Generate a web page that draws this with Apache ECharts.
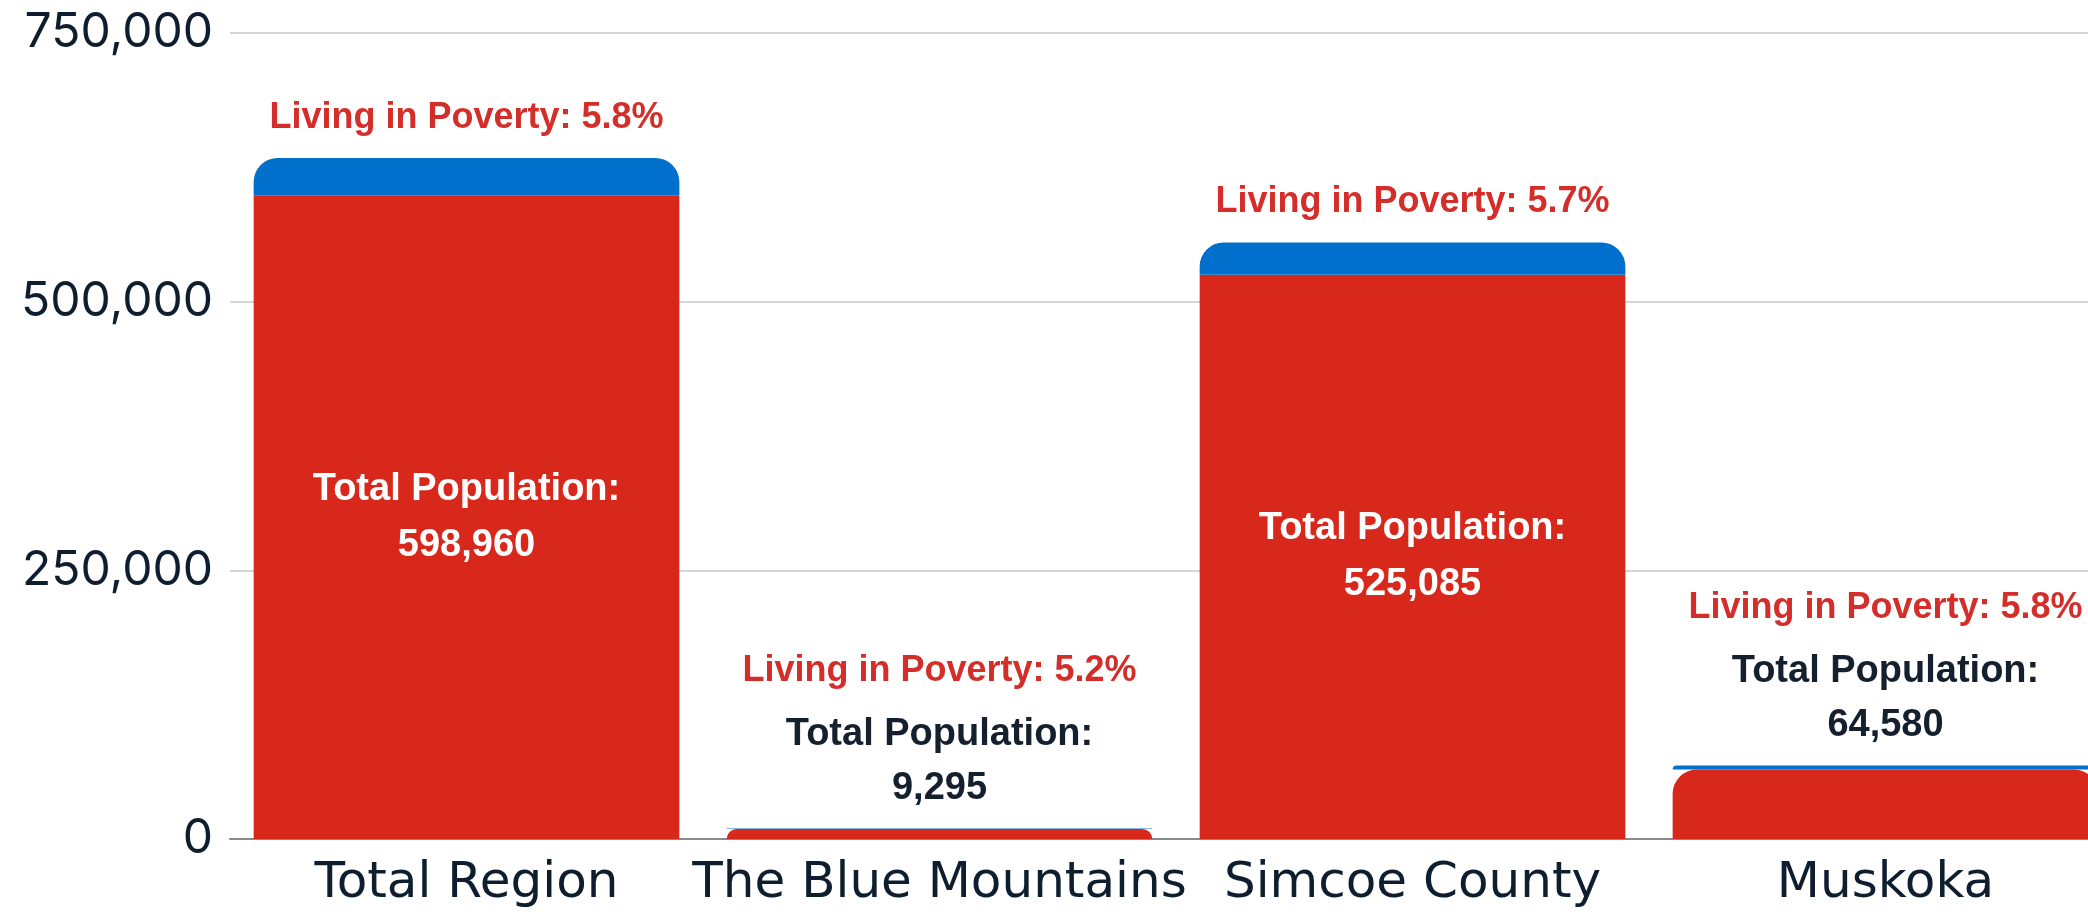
<!DOCTYPE html>
<html>
<head>
<meta charset="utf-8">
<script src="https://cdn.jsdelivr.net/npm/echarts@6/dist/echarts.min.js"></script>
<style>
html,body{margin:0;padding:0;background:#fff;overflow:hidden;width:2088px;height:924px;}
#chart{width:2122px;height:924px;}
</style>
</head>
<body>
<div id="chart"></div>
<script>
const categories = ['Total Region', 'The Blue Mountains', 'Simcoe County', 'Muskoka'];
const totalPopulation = [598960, 9295, 525085, 64580];
const livingInPoverty = [34740, 483, 29930, 3746];
const povertyRate = [5.8, 5.2, 5.7, 5.8];
const yTicks = [0, 250000, 500000, 750000];

const RED = '#D8281C';
const BLUE = '#0070CC';
const LABEL_RED = '#D42E2A';
const NAVY = '#15202E';
const R = 24;

const fmt = v => v.toLocaleString('en-US');
const isSmall = i => totalPopulation[i] < 100000;
const font36 = { fontFamily: 'Liberation Sans, Arial, sans-serif', fontWeight: 'bold', fontSize: 36 };
const font38 = { fontFamily: 'Liberation Sans, Arial, sans-serif', fontWeight: 'bold', fontSize: 38 };

const chart = echarts.init(document.getElementById('chart'), null, { renderer: 'canvas' });
chart.setOption({
  animation: false,
  backgroundColor: '#ffffff',
  grid: { left: 230, right: 0, top: 33, bottom: 85, containLabel: false, outerBoundsMode: 'none' },
  xAxis: {
    type: 'category',
    data: categories,
    axisTick: { show: false },
    axisLine: { show: true, lineStyle: { color: '#8a8a8a', width: 2 } },
    axisLabel: { color: '#0E1E2E', fontFamily: 'DejaVu Sans', fontSize: 50, margin: 20, interval: 0 }
  },
  yAxis: {
    type: 'value',
    min: yTicks[0],
    max: yTicks[yTicks.length - 1],
    interval: yTicks[1] - yTicks[0],
    axisLine: { show: false },
    axisTick: { show: false },
    splitLine: { lineStyle: { color: '#d6d6d6', width: 2 } },
    axisLabel: { color: '#0E1E2E', fontFamily: 'Inter', fontSize: 48, margin: 17, formatter: v => fmt(v) }
  },
  series: [
    {
      name: 'Total Population',
      type: 'bar',
      stack: 'pop',
      barWidth: '90%',
      data: totalPopulation.map((v, i) => ({
        value: v,
        itemStyle: { color: RED, borderRadius: isSmall(i) ? [R, R, 0, 0] : 0 }
      })),
      label: {
        show: true,
        position: 'inside',
        formatter: p => isSmall(p.dataIndex) ? '' : '{w|Total Population:}\n{w|' + fmt(totalPopulation[p.dataIndex]) + '}',
        rich: { w: Object.assign({ color: '#ffffff', lineHeight: 56 }, font38) }
      }
    },
    {
      name: 'Living in Poverty',
      type: 'bar',
      stack: 'pop',
      barWidth: '90%',
      data: livingInPoverty.map(v => ({ value: v })),
      itemStyle: { color: BLUE, borderRadius: [R, R, 0, 0] },
      label: {
        show: true,
        position: 'top',
        distance: 13,
        formatter: p => {
          const i = p.dataIndex;
          const head = 'Living in Poverty: ' + povertyRate[i].toFixed(1) + '%';
          if (isSmall(i)) {
            return '{r2|' + head + '}\n{d|Total Population:}\n{d|' + fmt(totalPopulation[i]) + '}';
          }
          return '{r|' + head + '}';
        },
        rich: {
          r: Object.assign({ color: LABEL_RED, lineHeight: 54 }, font36),
          r2: Object.assign({ color: LABEL_RED, lineHeight: 72 }, font36),
          d: Object.assign({ color: NAVY, lineHeight: 54 }, font38)
        }
      }
    }
  ]
});
</script>
</body>
</html>
